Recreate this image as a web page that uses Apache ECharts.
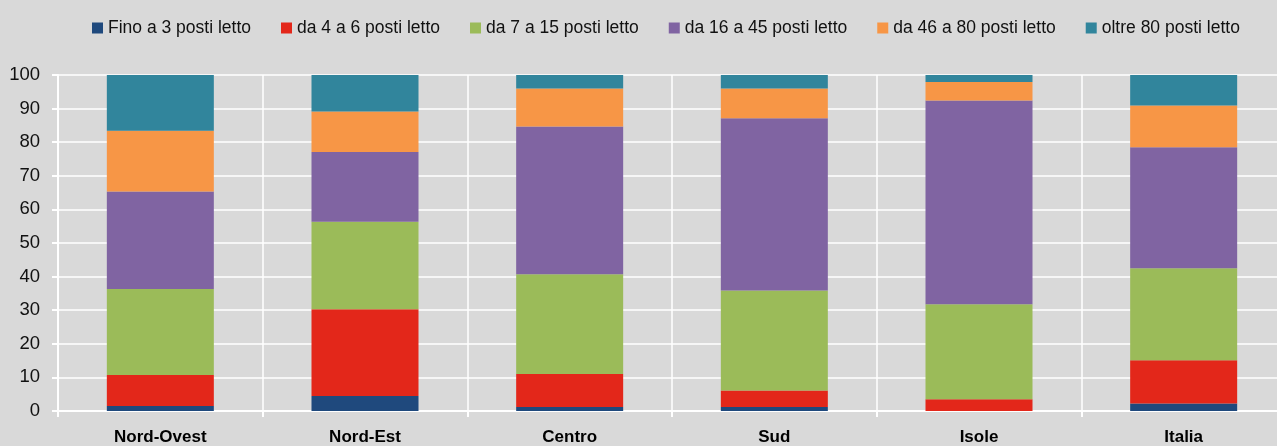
<!DOCTYPE html>
<html>
<head>
<meta charset="utf-8">
<script src="https://cdn.jsdelivr.net/npm/echarts@6/dist/echarts.min.js"></script>
<style>
html,body{margin:0;padding:0;background:#D9D9D9;overflow:hidden;width:1277px;height:446px;}
#chart{width:1300px;height:446px;}
</style>
</head>
<body>
<div id="chart"></div>
<script>
var categories = ['Nord-Ovest', 'Nord-Est', 'Centro', 'Sud', 'Isole', 'Italia'];
var seriesNames = ['Fino a 3 posti letto', 'da 4 a 6 posti letto', 'da 7 a 15 posti letto', 'da 16 a 45 posti letto', 'da 46 a 80 posti letto', 'oltre 80 posti letto'];
var fino3 = [1.5, 4.5, 1.2, 1.2, 0, 2.2];
var da4a6 = [9.2, 25.8, 9.8, 4.9, 3.5, 12.9];
var da7a15 = [25.6, 26.0, 29.7, 29.8, 28.3, 27.4];
var da16a45 = [29.0, 20.8, 44.0, 51.2, 60.6, 36.0];
var da46a80 = [18.1, 12.0, 11.3, 8.9, 5.5, 12.4];
var oltre80 = [16.6, 10.9, 4.0, 4.0, 2.1, 9.1];
var yTicks = [0, 10, 20, 30, 40, 50, 60, 70, 80, 90, 100];

var colors = ['#1F497D', '#E3271A', '#9BBB59', '#8064A2', '#F79646', '#31859C'];
var values = [fino3, da4a6, da7a15, da16a45, da46a80, oltre80];

var chart = echarts.init(document.getElementById('chart'), null, {renderer: 'canvas'});
var series = seriesNames.map(function (n, i) {
  return {
    name: n,
    type: 'bar',
    stack: 'tot',
    barWidth: 107,
    data: values[i],
    itemStyle: {color: colors[i]},
    emphasis: {disabled: true}
  };
});

chart.setOption({
  backgroundColor: '#D9D9D9',
  animation: false,
  color: colors,
  legend: {
    left: 92,
    top: 19,
    padding: 0,
    itemWidth: 11,
    itemHeight: 11,
    itemGap: 30,
    icon: 'rect',
    textStyle: {fontFamily: 'Liberation Sans, Arial, sans-serif', fontSize: 17.5, color: '#111'},
    data: seriesNames
  },
  grid: {left: 58, right: 14, top: 75, height: 337, containLabel: false},
  xAxis: {
    type: 'category',
    data: categories,
    axisLine: {lineStyle: {color: '#FFFFFF', width: 2}},
    axisTick: {show: true, length: 6, lineStyle: {color: '#FFFFFF', width: 2}},
    splitLine: {show: true, lineStyle: {color: '#FFFFFF', width: 1.5}},
    axisLabel: {margin: 18, fontFamily: 'Liberation Sans, Arial, sans-serif', fontWeight: 'bold', fontSize: 17, color: '#000'}
  },
  yAxis: {
    type: 'value',
    min: yTicks[0],
    max: yTicks[yTicks.length - 1],
    interval: 10,
    axisLine: {show: true, lineStyle: {color: '#FFFFFF', width: 2}},
    axisTick: {show: true, length: 6, lineStyle: {color: '#FFFFFF', width: 2}},
    splitLine: {show: true, lineStyle: {color: '#FFFFFF', width: 1.5}},
    axisLabel: {margin: 18, fontFamily: 'Liberation Sans, Arial, sans-serif', fontSize: 18.5, color: '#111'}
  },
  series: series
});
</script>
</body>
</html>
